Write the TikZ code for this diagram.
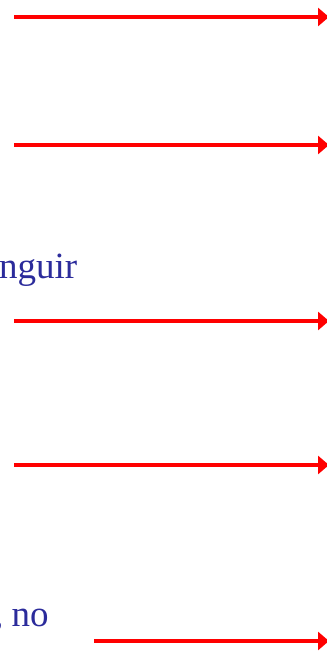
\documentclass[tikz,border=0pt]{standalone}
\usepackage{fontspec}
\setmainfont{Liberation Serif}
\usetikzlibrary{arrows.meta}
\definecolor{textblue}{HTML}{2B2B9B}
\tikzset{
  redarrow/.style={draw=red, line width=4pt, -{Triangle[length=11pt,width=18pt]}},
  bodytext/.style={text=textblue, font=\fontsize{37}{40}\selectfont, inner sep=0pt, anchor=base west}
}
\begin{document}
\begin{tikzpicture}[x=1pt,y=-1pt]
\useasboundingbox (0,0) rectangle (327,657);
% arrow end points
\coordinate (a1s) at (14,17);  \coordinate (a1e) at (329,17);
\coordinate (a2s) at (14,145); \coordinate (a2e) at (329,145);
\coordinate (a3s) at (14,321); \coordinate (a3e) at (329,321);
\coordinate (a4s) at (14,465); \coordinate (a4e) at (329,465);
\coordinate (a5s) at (94,641); \coordinate (a5e) at (329,641);
\draw[redarrow] (a1s) -- (a1e);
\draw[redarrow] (a2s) -- (a2e);
\draw[redarrow] (a3s) -- (a3e);
\draw[redarrow] (a4s) -- (a4e);
\draw[redarrow] (a5s) -- (a5e);
% text fragments
\node[bodytext] (t1) at (-1,278) {nguir};
\node[bodytext] (t2) at (-7,626) {\kern1pt,\kern-1pt\ no};
\end{tikzpicture}
\end{document}
